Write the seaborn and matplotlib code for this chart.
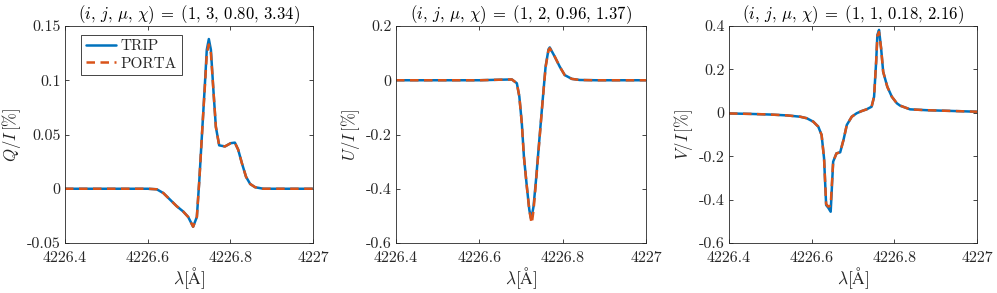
import numpy as np
import pandas as pd
import seaborn as sns
import matplotlib
matplotlib.use("Agg")
import matplotlib.pyplot as plt

# ---- data (wavelength in A, polarisation in %) ----
lam_q = [4226.400, 4226.500, 4226.600, 4226.622, 4226.638, 4226.654, 4226.670, 4226.686,
         4226.698, 4226.710, 4226.719, 4226.725, 4226.732, 4226.739, 4226.743, 4226.748,
         4226.753, 4226.759, 4226.765, 4226.773, 4226.787, 4226.801, 4226.811, 4226.819,
         4226.828, 4226.838, 4226.848, 4226.860, 4226.880, 4227.000]
q_trip = [0.0, 0.0, 0.0, -0.0005, -0.004, -0.010, -0.016, -0.021,
          -0.026, -0.035, -0.026, 0.008, 0.054, 0.100, 0.128, 0.138,
          0.128, 0.091, 0.057, 0.040, 0.039, 0.042, 0.0425, 0.036,
          0.0235, 0.011, 0.0044, 0.0014, 0.0, 0.0]
q_porta = [0.0, 0.0, 0.0, -0.0005, -0.004, -0.010, -0.016, -0.021,
           -0.026, -0.035, -0.026, 0.008, 0.054, 0.098, 0.124, 0.133,
           0.125, 0.091, 0.057, 0.040, 0.039, 0.042, 0.0425, 0.036,
           0.0235, 0.011, 0.0044, 0.0014, 0.0, 0.0]

lam_u = [4226.400, 4226.600, 4226.650, 4226.678, 4226.690, 4226.696, 4226.702, 4226.707,
         4226.714, 4226.720, 4226.724, 4226.726, 4226.730, 4226.736, 4226.744, 4226.752,
         4226.759, 4226.766, 4226.769, 4226.781, 4226.793, 4226.805, 4226.822, 4226.841,
         4226.880, 4227.000]
u_trip = [0.0, 0.0, 0.002, 0.003, -0.011, -0.060, -0.159, -0.282,
          -0.392, -0.478, -0.509, -0.500, -0.466, -0.368, -0.220, -0.073,
          0.050, 0.114, 0.121, 0.087, 0.050, 0.019, 0.005, 0.001,
          0.0, 0.0]
u_porta = [0.0, 0.0, 0.002, 0.003, -0.011, -0.060, -0.159, -0.282,
           -0.392, -0.480, -0.515, -0.527, -0.480, -0.375, -0.224, -0.076,
           0.048, 0.111, 0.118, 0.087, 0.050, 0.019, 0.005, 0.001,
           0.0, 0.0]

lam_v = [4226.400, 4226.450, 4226.500, 4226.540, 4226.572, 4226.588, 4226.604, 4226.616,
         4226.624, 4226.630, 4226.635, 4226.640, 4226.646, 4226.652, 4226.660, 4226.669,
         4226.677, 4226.685, 4226.697, 4226.709, 4226.721, 4226.733, 4226.745, 4226.751,
         4226.756, 4226.759, 4226.763, 4226.768, 4226.773, 4226.783, 4226.794, 4226.806,
         4226.814, 4226.838, 4226.878, 4227.000]
v_trip = [-0.003, -0.005, -0.008, -0.012, -0.018, -0.025, -0.041, -0.064,
          -0.102, -0.210, -0.425, -0.437, -0.456, -0.225, -0.187, -0.182,
          -0.125, -0.056, -0.018, -0.002, 0.008, 0.016, 0.028, 0.074,
          0.235, 0.359, 0.382, 0.297, 0.189, 0.120, 0.074, 0.044,
          0.033, 0.016, 0.012, 0.005]
v_porta = [-0.003, -0.005, -0.008, -0.012, -0.018, -0.025, -0.041, -0.064,
           -0.102, -0.210, -0.420, -0.432, -0.428, -0.225, -0.187, -0.182,
           -0.125, -0.056, -0.018, -0.002, 0.008, 0.016, 0.028, 0.074,
           0.235, 0.355, 0.372, 0.297, 0.189, 0.120, 0.074, 0.044,
           0.033, 0.016, 0.012, 0.005]

titles = [r"$(i,\,j,\,\mu,\,\chi)\;=\;(1,\,3,\,0.80,\,3.34)$",
          r"$(i,\,j,\,\mu,\,\chi)\;=\;(1,\,2,\,0.96,\,1.37)$",
          r"$(i,\,j,\,\mu,\,\chi)\;=\;(1,\,1,\,0.18,\,2.16)$"]
ylabels = [r"$Q/I\,[\%]$", r"$U/I\,[\%]$", r"$V/I\,[\%]$"]
yticks = [[-0.05, 0, 0.05, 0.1, 0.15],
          [-0.6, -0.4, -0.2, 0, 0.2],
          [-0.6, -0.4, -0.2, 0, 0.2, 0.4]]
ytick_labels = [["-0.05", "0", "0.05", "0.1", "0.15"],
                ["-0.6", "-0.4", "-0.2", "0", "0.2"],
                ["-0.6", "-0.4", "-0.2", "0", "0.2", "0.4"]]
ylims = [(-0.05, 0.15), (-0.6, 0.2), (-0.6, 0.4)]
xticks = [4226.4, 4226.6, 4226.8, 4227.0]
xtick_labels = ["4226.4", "4226.6", "4226.8", "4227"]

sns.set_theme(style="ticks")
plt.rcParams["font.family"] = ["cmr10", "DejaVu Serif"]
plt.rcParams["mathtext.fontset"] = "cm"
plt.rcParams["axes.unicode_minus"] = False

ax_col = "#262626"
palette = {"TRIP": "#0072BD", "PORTA": "#D95319"}

fig = plt.figure(figsize=[9.97, 2.93], dpi=100)
lefts = [65 / 997, 396 / 997, 729 / 997]
widths = [248 / 997, 250 / 997, 248 / 997]

panels = [(lam_q, q_trip, q_porta), (lam_u, u_trip, u_porta), (lam_v, v_trip, v_porta)]
for k, (lam, trip, porta) in enumerate(panels):
    ax = fig.add_axes([lefts[k], 50 / 293, widths[k], 217 / 293])
    df = pd.DataFrame({
        "lam": list(lam) + list(lam),
        "val": list(trip) + list(porta),
        "code": ["TRIP"] * len(lam) + ["PORTA"] * len(lam),
    })
    sns.lineplot(data=df, x="lam", y="val", hue="code", style="code",
                 palette=palette, dashes={"TRIP": "", "PORTA": (3.4, 2.2)},
                 linewidth=1.8, ax=ax, legend=(k == 0), sort=False)
    ax.set_xlim(4226.4, 4227.0)
    ax.set_ylim(*ylims[k])
    ax.set_xticks(xticks)
    ax.set_xticklabels(xtick_labels)
    ax.set_yticks(yticks[k])
    ax.set_yticklabels(ytick_labels[k])
    ax.tick_params(direction="in", top=True, right=True, length=3, width=0.6,
                   labelsize=11.5, colors=ax_col)
    ax.tick_params(axis="x", pad=6)
    ax.tick_params(axis="y", pad=3)
    for s in ax.spines.values():
        s.set_color(ax_col)
        s.set_linewidth(0.6)
        s.set_visible(True)
    ax.set_title(titles[k], fontsize=12, color="black", pad=5)
    ax.set_xlabel(r"$\lambda[\mathrm{\AA}]$", fontsize=12.5, color=ax_col, labelpad=0.5)
    ax.set_ylabel(ylabels[k], fontsize=12, color=ax_col, labelpad=3)
    if k == 0:
        leg = ax.legend(loc="upper left", bbox_to_anchor=(0.065, 0.96), borderaxespad=0,
                        frameon=True, fancybox=False, fontsize=11, handlelength=2.0,
                        borderpad=0.3, labelspacing=0.25, handletextpad=0.3)
        leg.get_frame().set_edgecolor(ax_col)
        leg.get_frame().set_linewidth(0.6)
        leg.get_frame().set_alpha(1)
        leg.set_title(None)

fig.savefig("out.png", dpi=100)
